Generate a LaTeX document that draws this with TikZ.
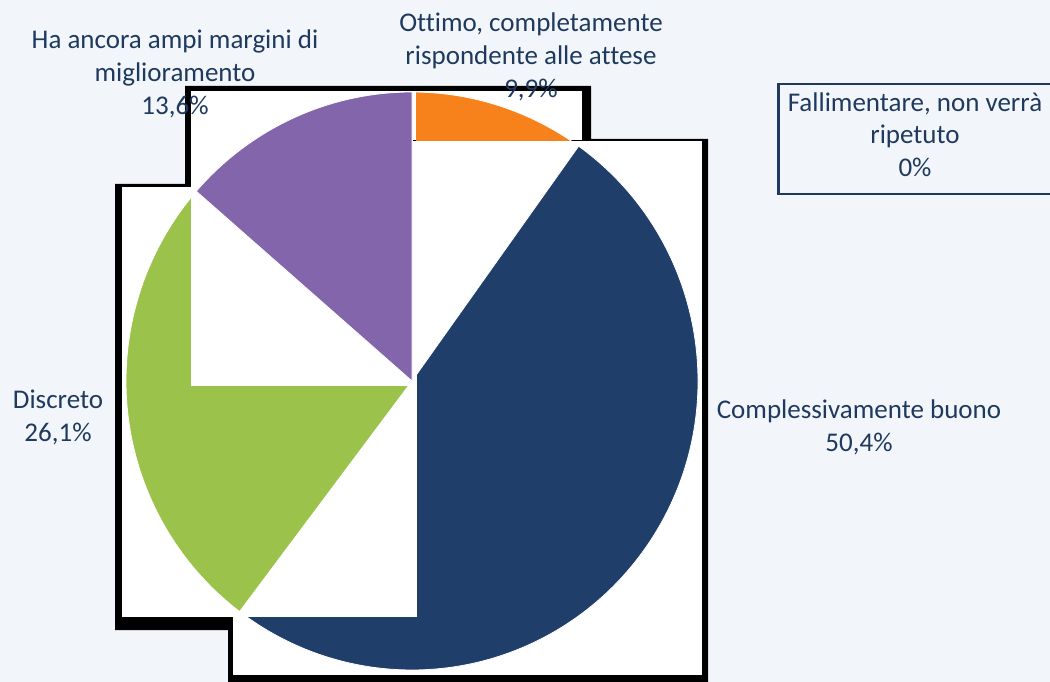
\documentclass[tikz,border=0pt]{standalone}
\usepackage{fontspec}
\setmainfont{Carlito}[Ligatures=NoCommon]
\definecolor{bg}{HTML}{F2F6FA}
\definecolor{txt}{HTML}{1F3A5E}
\definecolor{porange}{HTML}{F7821B}
\definecolor{pblue}{HTML}{1F3E69}
\definecolor{pgreen}{HTML}{9BC24A}
\definecolor{ppurple}{HTML}{8265AA}
\begin{document}
\begin{tikzpicture}[x=1pt,y=-1pt,
  lbl/.style={text=txt, font=\fontsize{27}{33}\selectfont, align=center, inner sep=0pt, anchor=base},
  tile/.style={fill=white},
  shadowpoly/.style={fill=black},
  slice/.style={draw=white, line width=0.8pt}]
\fill[bg] (0,0) rectangle (1050,682);
\useasboundingbox (0,0) rectangle (1050,682);
\coordinate (c) at (412,381);
% black shadows of the tiles
\fill[shadowpoly] (185,86) -- (591,86) -- (591,139) -- (708,139) -- (708,682) -- (228,682) -- (228,630) -- (115,630) -- (115,184) -- (185,184) -- cycle;
% blue tile
\fill[tile] (233,141) rectangle (702,675);
\begin{scope}
  \clip (233,141) rectangle (702,675);
  \filldraw[slice, fill=pblue] (c) -- ++(-54.36:286 and 289) arc[start angle=-54.36, end angle=127.08, x radius=286, y radius=289] -- cycle;
\end{scope}
% green tile
\fill[tile] (122,187) rectangle (417,617);
\begin{scope}
  \clip (122,187) rectangle (417,617);
  \filldraw[slice, fill=pgreen] (c) -- ++(127.08:286 and 289) arc[start angle=127.08, end angle=221.04, x radius=286, y radius=289] -- cycle;
\end{scope}
% purple tile
\fill[tile] (191,91) rectangle (413,386);
\begin{scope}
  \clip (191,91) rectangle (413,386);
  \filldraw[slice, fill=ppurple] (c) -- ++(221.04:286 and 289) arc[start angle=221.04, end angle=270, x radius=286, y radius=289] -- cycle;
\end{scope}
% orange tile
\fill[tile] (413,91) rectangle (582,140.5);
\begin{scope}
  \clip (416,91) rectangle (582,140.5);
  \filldraw[slice, fill=porange] (c) -- ++(-90:286 and 289) arc[start angle=-90, end angle=-54.36, x radius=286, y radius=289] -- cycle;
\end{scope}
% labels (base anchor = baseline of last line)
\node[lbl] (ha) at (175,115) {Ha ancora ampi margini di\\miglioramento\\13,6\%};
\node[lbl] (ott) at (531,98) {Ottimo, completamente\\rispondente alle attese\\9,9\%};
\node[lbl] (comp) at (859,451) {Complessivamente buono\\50,4\%};
\node[lbl] (disc) at (58,441) {Discreto\\26,1\%};
\node[draw=txt, line width=2.5pt, minimum width=280pt, minimum height=110pt, anchor=north west, inner sep=0pt] (box) at (777,83) {};
\node[lbl] (fall) at (915,177) {Fallimentare, non verrà\\ripetuto\\0\%};
\end{tikzpicture}
\end{document}
